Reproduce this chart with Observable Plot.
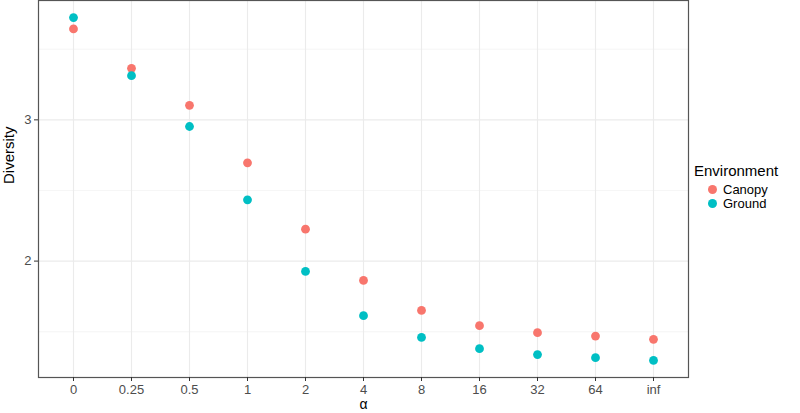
<!DOCTYPE html>
<html>
<head>
<meta charset="utf-8">
<script src="https://cdn.jsdelivr.net/npm/d3@7"></script>
<script src="https://cdn.jsdelivr.net/npm/@observablehq/plot@0.6"></script>
<style>
  html, body { margin: 0; padding: 0; background: #fff; }
  #wrap { position: relative; width: 800px; height: 413px; font-family: "Liberation Sans", Arial, sans-serif; }
  #legend { position: absolute; left: 694px; top: 162px; }
  #legend .title { font-size: 15px; color: #000; margin-bottom: 3px; }
  #legend .row { display: flex; align-items: center; height: 14.5px; font-size: 13px; color: #000; }
  #legend .sw { width: 9px; height: 9px; border-radius: 50%; margin-left: 14px; margin-right: 6px; }
</style>
</head>
<body>
<div id="wrap"></div>
<script>
const alphas = ["0", "0.25", "0.5", "1", "2", "4", "8", "16", "32", "64", "inf"];
const canopy = [3.644, 3.365, 3.103, 2.696, 2.226, 1.863, 1.651, 1.543, 1.493, 1.469, 1.446];
const ground = [3.724, 3.313, 2.953, 2.434, 1.927, 1.614, 1.460, 1.380, 1.338, 1.316, 1.297];
const environments = ["Canopy", "Ground"];
const envColors = ["#F8766D", "#00BFC4"];
const yMajor = [2, 3];
const yMinor = [1.5, 2.5, 3.5];

const data = [];
alphas.forEach((a, i) => {
  data.push({alpha: a, diversity: canopy[i], env: "Canopy"});
  data.push({alpha: a, diversity: ground[i], env: "Ground"});
});

const chart = Plot.plot({
  width: 800,
  height: 413,
  marginLeft: 38,
  marginRight: 112,
  marginTop: 0,
  marginBottom: 36,
  style: {fontFamily: "'Liberation Sans', Arial, sans-serif", background: "#fff"},
  x: {type: "point", domain: alphas, padding: 0.6, label: null},
  y: {domain: [1.176, 3.845], label: null},
  color: {domain: environments, range: envColors},
  marks: [
    Plot.gridY(yMinor, {stroke: "#efefef", strokeOpacity: 1, strokeWidth: 0.6}),
    Plot.gridY(yMajor, {stroke: "#ebebeb", strokeOpacity: 1, strokeWidth: 1.1}),
    Plot.gridX(alphas, {stroke: "#ebebeb", strokeOpacity: 1, strokeWidth: 1.1}),
    Plot.dot(data, {x: "alpha", y: "diversity", fill: "env", r: 4.4}),
    Plot.frame({stroke: "#555", strokeWidth: 1.2}),
    Plot.axisY(yMajor, {tickSize: 4, tickPadding: 3, fontSize: 13, color: "#4d4d4d", stroke: "#333", label: null, tickFormat: d => String(d)}),
    Plot.axisX(alphas, {tickSize: 4, tickPadding: 3, fontSize: 13, color: "#4d4d4d", stroke: "#333", label: null}),
    Plot.text(["α"], {frameAnchor: "bottom", dy: 31, fontSize: 14, fill: "#000"}),
    Plot.text(["Diversity"], {frameAnchor: "left", dx: -29, dy: -5, rotate: -90, fontSize: 15, fill: "#000"})
  ]
});

const wrap = document.getElementById("wrap");
wrap.appendChild(chart);

const legend = document.createElement("div");
legend.id = "legend";
legend.innerHTML = `<div class="title">Environment</div>` +
  environments.map((e, i) => `<div class="row"><span class="sw" style="background:${envColors[i]}"></span>${e}</div>`).join("");
wrap.appendChild(legend);
</script>
</body>
</html>
